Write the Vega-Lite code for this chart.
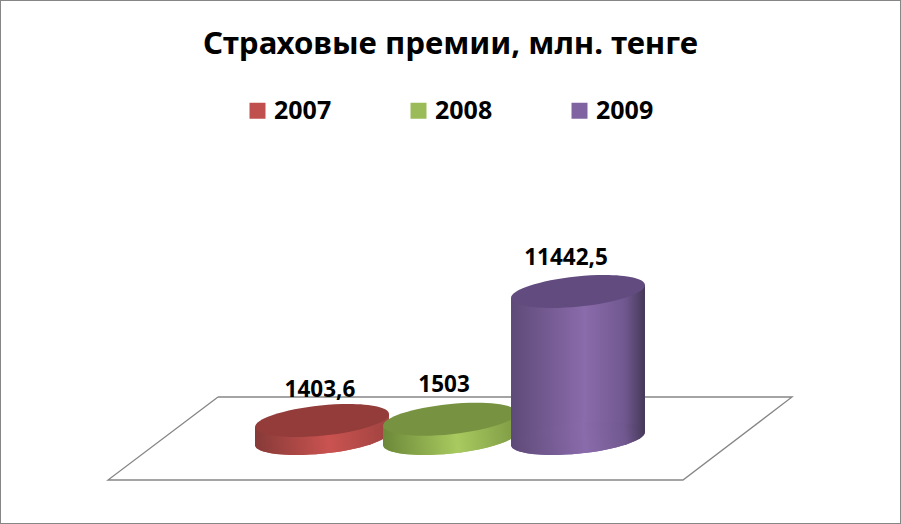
{
"$schema":"https://vega.github.io/schema/vega-lite/v6.json",
"width":901,"height":524,"autosize":"none","padding":0,"background":"white",
"view":{"stroke":"#868686","strokeWidth":2,"fill":"white"},
"title":{"text":"Страховые премии, млн. тенге","font":"Noto Sans","fontSize":31.2,"fontWeight":"bold","color":"#000000","anchor":"middle","frame":"group","dy":60,"offset":0},
"datasets":{
"bars":[{"year":"2007","pos":1,"value":1403.6,"label":"1403,6"},{"year":"2008","pos":2,"value":1503,"label":"1503"},{"year":"2009","pos":3,"value":11442.5,"label":"11442,5"}],
"sides":[{"year":"2007","pos":0.4766,"top":897.6,"base":-506},{"year":"2007","pos":1.5234,"top":1909.6,"base":506},{"year":"2008","pos":1.4766,"top":997,"base":-506},{"year":"2008","pos":2.5234,"top":2009,"base":506},{"year":"2009","pos":2.4766,"top":10936.5,"base":-506},{"year":"2009","pos":3.5234,"top":11948.5,"base":506}],
"floor":[{"i":1,"pos":0.1875,"value":3230},{"i":2,"pos":4.672,"value":3230},{"i":3,"pos":3.82,"value":-3230},{"i":4,"pos":-0.672,"value":-3230},{"i":5,"pos":0.1875,"value":3230}]
},
"data":{"name":"bars"},
"encoding":{
"x":{"field":"pos","type":"quantitative","axis":null,"scale":{"domain":[-1.5156,5.5234],"nice":false,"zero":false}},
"y":{"field":"value","type":"quantitative","axis":null,"scale":{"domain":[-6654,34125],"nice":false,"zero":false}}
},
"layer":[
{"data":{"name":"floor"},"mark":{"type":"line","stroke":"#868686","strokeWidth":1.3},"encoding":{"order":{"field":"i","type":"ordinal"}}},
{"mark":{"type":"point","shape":"M-1,0 A1,0.2244,0,1,1,1,0 A1,0.2244,0,1,1,-1,0 Z","filled":true,"size":18117,"angle":354.17,"opacity":1},
"encoding":{"y":{"datum":0,"type":"quantitative"},"color":{"field":"year","type":"nominal","scale":{"domain":["2007","2008","2009"],"range":["#C0504D","#9BBB59","#8064A2"]},
"legend":{"title":null,"orient":"none","legendX":245,"legendY":98,"direction":"horizontal","columns":3,"symbolType":"square","symbolSize":256,"symbolStrokeWidth":0,"symbolOpacity":1,"labelFont":"Noto Sans","labelFontSize":25,"labelFontWeight":"bold","labelColor":"#000000","labelOffset":4,"columnPadding":74,"labelLimit":200}}}},
{"layer":[
{"data":{"name":"sides"},"transform":[{"filter":"datum.year==='2007'"}],"mark":{"type":"area","fill":{"gradient":"linear","x1":0,"x2":1,"y1":0,"y2":0,"stops":[{"offset":0,"color":"#863a38"},{"offset":0.55,"color":"#ca5350"},{"offset":1,"color":"#a04341"}]}},"encoding":{"y":{"field":"top","type":"quantitative"},"y2":{"field":"base"}}},
{"transform":[{"filter":"datum.year==='2007'"}],"mark":{"type":"point","shape":"M-1,0 A1,0.2244,0,1,1,1,0 A1,0.2244,0,1,1,-1,0 Z","filled":true,"size":18117,"angle":354.17,"opacity":1,"fill":{"gradient":"linear","x1":0,"x2":1,"y1":0,"y2":0,"stops":[{"offset":0,"color":"#863a38"},{"offset":0.55,"color":"#ca5350"},{"offset":1,"color":"#a04341"}]}},"encoding":{"y":{"datum":0,"type":"quantitative"}}},
{"transform":[{"filter":"datum.year==='2007'"}],"mark":{"type":"point","shape":"M-1,0 A1,0.2244,0,1,1,1,0 A1,0.2244,0,1,1,-1,0 Z","filled":true,"size":18117,"angle":354.17,"opacity":1,"fill":"#933c3a"}},
{"transform":[{"filter":"datum.year==='2007'"}],"mark":{"type":"text","font":"Noto Sans","fontSize":22.5,"fontWeight":"bold","color":"#000000","dx":-2,"dy":-30},"encoding":{"text":{"field":"label","type":"nominal"}}}
]},
{"layer":[
{"data":{"name":"sides"},"transform":[{"filter":"datum.year==='2008'"}],"mark":{"type":"area","fill":{"gradient":"linear","x1":0,"x2":1,"y1":0,"y2":0,"stops":[{"offset":0,"color":"#6c8839"},{"offset":0.55,"color":"#a8ca5f"},{"offset":1,"color":"#7f9b45"}]}},"encoding":{"y":{"field":"top","type":"quantitative"},"y2":{"field":"base"}}},
{"transform":[{"filter":"datum.year==='2008'"}],"mark":{"type":"point","shape":"M-1,0 A1,0.2244,0,1,1,1,0 A1,0.2244,0,1,1,-1,0 Z","filled":true,"size":18117,"angle":354.17,"opacity":1,"fill":{"gradient":"linear","x1":0,"x2":1,"y1":0,"y2":0,"stops":[{"offset":0,"color":"#6c8839"},{"offset":0.55,"color":"#a8ca5f"},{"offset":1,"color":"#7f9b45"}]}},"encoding":{"y":{"datum":0,"type":"quantitative"}}},
{"transform":[{"filter":"datum.year==='2008'"}],"mark":{"type":"point","shape":"M-1,0 A1,0.2244,0,1,1,1,0 A1,0.2244,0,1,1,-1,0 Z","filled":true,"size":18117,"angle":354.17,"opacity":1,"fill":"#779240"}},
{"transform":[{"filter":"datum.year==='2008'"}],"mark":{"type":"text","font":"Noto Sans","fontSize":22.5,"fontWeight":"bold","color":"#000000","dx":-6,"dy":-34},"encoding":{"text":{"field":"label","type":"nominal"}}}
]},
{"layer":[
{"data":{"name":"sides"},"transform":[{"filter":"datum.year==='2009'"}],"mark":{"type":"area","fill":{"gradient":"linear","x1":0,"x2":1,"y1":0,"y2":0,"stops":[{"offset":0,"color":"#5e4a78"},{"offset":0.55,"color":"#8a6bab"},{"offset":0.85,"color":"#70588f"},{"offset":1,"color":"#463858"}]}},"encoding":{"y":{"field":"top","type":"quantitative"},"y2":{"field":"base"}}},
{"transform":[{"filter":"datum.year==='2009'"}],"mark":{"type":"point","shape":"M-1,0 A1,0.2244,0,1,1,1,0 A1,0.2244,0,1,1,-1,0 Z","filled":true,"size":18117,"angle":354.17,"opacity":1,"fill":{"gradient":"linear","x1":0,"x2":1,"y1":0,"y2":0,"stops":[{"offset":0,"color":"#5e4a78"},{"offset":0.55,"color":"#8a6bab"},{"offset":0.85,"color":"#70588f"},{"offset":1,"color":"#463858"}]}},"encoding":{"y":{"datum":0,"type":"quantitative"}}},
{"transform":[{"filter":"datum.year==='2009'"}],"mark":{"type":"point","shape":"M-1,0 A1,0.2244,0,1,1,1,0 A1,0.2244,0,1,1,-1,0 Z","filled":true,"size":18117,"angle":354.17,"opacity":1,"fill":"#624c7f"}},
{"transform":[{"filter":"datum.year==='2009'"}],"mark":{"type":"text","font":"Noto Sans","fontSize":22.5,"fontWeight":"bold","color":"#000000","dx":-12,"dy":-33},"encoding":{"text":{"field":"label","type":"nominal"}}}
]}
]
}
